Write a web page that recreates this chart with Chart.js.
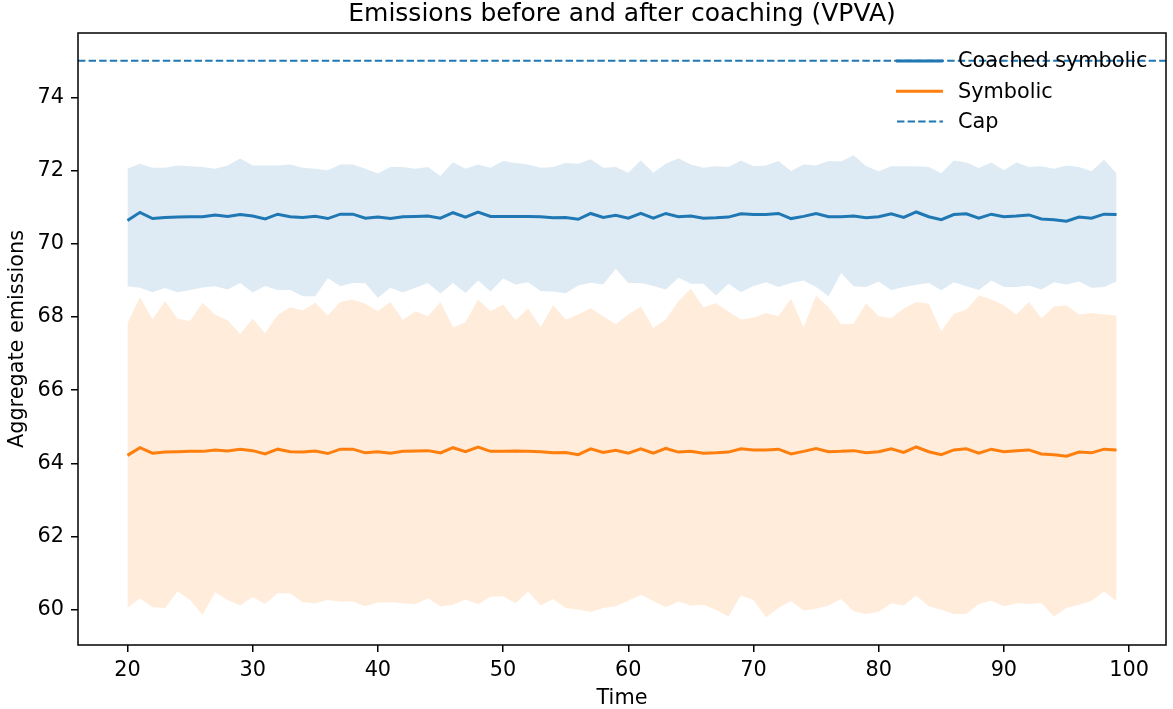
<!DOCTYPE html>
<html><head><meta charset="utf-8">
<script src="https://cdn.jsdelivr.net/npm/chart.js@4.4.0/dist/chart.umd.min.js"></script>
<style>html,body{margin:0;padding:0;background:#fff;}canvas{display:block;}</style>
</head><body>
<canvas id="c" width="1173" height="709"></canvas>
<script>
const titleText = 'Emissions before and after coaching (VPVA)';
const xAxisTitle = 'Time';
const yAxisTitle = 'Aggregate emissions';
const timeSteps = [20,21,22,23,24,25,26,27,28,29,30,31,32,33,34,35,36,37,38,39,
  40,41,42,43,44,45,46,47,48,49,50,51,52,53,54,55,56,57,58,59,
  60,61,62,63,64,65,66,67,68,69,70,71,72,73,74,75,76,77,78,79,
  80,81,82,83,84,85,86,87,88,89,90,91,92,93,94,95,96,97,98,99];
const coachedMean = [70.64,70.86,70.69,70.72,70.73,70.74,70.74,70.79,70.75,70.80,
  70.76,70.68,70.81,70.74,70.72,70.75,70.69,70.81,70.81,70.70,
  70.73,70.69,70.74,70.75,70.76,70.70,70.85,70.73,70.87,70.75,
  70.75,70.75,70.75,70.74,70.71,70.72,70.67,70.83,70.72,70.78,
  70.70,70.83,70.70,70.83,70.74,70.76,70.70,70.71,70.73,70.82,
  70.80,70.80,70.83,70.69,70.75,70.83,70.74,70.74,70.76,70.71,
  70.74,70.82,70.72,70.87,70.74,70.66,70.80,70.82,70.70,70.81,
  70.74,70.76,70.79,70.68,70.66,70.62,70.73,70.70,70.81,70.80];
const coachedUpper = [72.05,72.19,72.08,72.08,72.14,72.12,72.10,72.05,72.14,72.33,
  72.14,72.14,72.14,72.17,72.08,72.05,72.01,72.17,72.17,72.05,
  71.92,72.10,72.10,72.05,72.10,71.85,72.23,72.05,72.17,72.08,
  72.26,72.21,72.17,72.08,72.10,72.21,72.19,72.31,72.08,72.10,
  71.94,72.28,71.94,72.19,72.34,72.17,72.08,72.12,72.10,72.28,
  72.12,72.14,72.26,71.99,72.17,72.14,72.26,72.25,72.42,72.12,
  71.98,72.12,72.12,72.12,72.10,71.93,72.28,72.22,72.07,72.22,
  72.01,72.22,72.10,72.12,72.05,72.14,72.10,71.98,72.30,71.93];
const coachedLower = [68.84,68.80,68.68,68.79,68.68,68.74,68.81,68.84,68.75,68.93,
  68.67,68.85,68.74,68.74,68.57,68.57,69.06,68.85,68.93,68.92,
  68.53,68.80,68.67,68.80,68.93,68.64,68.93,68.66,69.00,68.70,
  69.05,68.89,68.95,68.71,68.70,68.65,68.86,68.94,68.89,69.32,
  68.93,68.93,68.85,68.75,69.07,68.91,68.91,68.59,68.91,68.68,
  68.85,68.95,68.82,68.93,69.00,68.82,68.57,69.20,68.84,68.82,
  68.97,68.74,68.82,68.88,68.93,68.73,68.95,68.84,68.74,69.00,
  68.82,68.82,68.86,68.75,68.95,68.89,68.97,68.80,68.82,68.97];
const symbolicMean = [64.22,64.43,64.28,64.31,64.32,64.33,64.33,64.37,64.34,64.39,
  64.35,64.26,64.39,64.32,64.31,64.34,64.27,64.39,64.39,64.29,
  64.32,64.28,64.33,64.34,64.35,64.29,64.43,64.32,64.45,64.33,
  64.33,64.34,64.33,64.32,64.29,64.30,64.24,64.40,64.30,64.36,
  64.28,64.40,64.28,64.41,64.31,64.33,64.28,64.29,64.31,64.40,
  64.37,64.37,64.39,64.26,64.33,64.41,64.32,64.33,64.35,64.29,
  64.32,64.40,64.30,64.45,64.32,64.24,64.37,64.40,64.28,64.39,
  64.32,64.35,64.37,64.26,64.24,64.20,64.31,64.29,64.39,64.37];
const symbolicUpper = [67.83,68.54,67.93,68.43,67.95,67.89,68.39,68.06,67.91,67.54,
  67.95,67.56,68.06,68.27,68.18,68.39,68.04,68.41,68.48,68.36,
  68.16,68.41,67.92,68.16,68.02,68.41,67.72,67.86,68.48,68.16,
  68.34,67.91,68.23,67.72,68.32,67.93,68.07,68.24,68.02,67.80,
  68.07,68.29,67.70,67.93,68.43,68.77,68.27,68.38,68.15,67.93,
  67.98,68.11,68.02,68.50,67.72,68.59,68.27,67.80,67.82,68.38,
  68.02,67.97,68.23,68.41,68.36,67.61,68.09,68.20,68.59,68.48,
  68.32,68.07,68.41,67.97,68.29,68.32,68.07,68.11,68.07,68.04];
const symbolicLower = [60.05,60.32,60.07,60.05,60.51,60.27,59.86,60.48,60.27,60.12,
  60.35,60.16,60.46,60.45,60.21,60.18,60.27,60.23,60.23,60.10,
  60.20,60.21,60.18,60.15,60.32,60.09,60.14,60.28,60.15,60.36,
  60.37,60.18,60.50,60.12,60.30,60.05,60.01,59.94,60.05,60.10,
  60.25,60.41,60.24,60.07,60.23,60.12,60.14,60.00,59.82,60.39,
  60.27,59.80,60.05,60.24,59.98,60.03,60.12,60.30,59.96,59.89,
  59.95,60.18,60.12,60.39,60.10,60.00,59.89,59.89,60.16,60.25,
  60.10,60.18,60.16,60.19,59.82,60.05,60.14,60.25,60.50,60.24];
const capValue = 75;
const xTickValues = [20,30,40,50,60,70,80,90,100];
const yTickValues = [60,62,64,66,68,70,72,74];
const xAxisMin = 16.05, xAxisMax = 102.95;
const yAxisMin = 59.04, yAxisMax = 75.76;

const BLUE = '#1f77b4', ORANGE = '#ff7f0e';
const FONT = '"DejaVu Sans", sans-serif';
const FS = 20.8;
const pts = ys => timeSteps.map((t, i) => ({x: t, y: ys[i]}));

const band = (label, ys, fill, color) => ({
  label, data: pts(ys), fill, backgroundColor: color, borderWidth: 0,
  pointRadius: 0, order: 2, tension: 0
});
const datasets = [
  {label: 'Coached symbolic', data: pts(coachedMean), borderColor: BLUE, borderWidth: 3,
   pointRadius: 0, fill: false, order: 1, tension: 0, legend: true},
  {label: 'Symbolic', data: pts(symbolicMean), borderColor: ORANGE, borderWidth: 3,
   pointRadius: 0, fill: false, order: 1, tension: 0, legend: true},
  {label: 'Cap', data: [{x: xAxisMin, y: capValue}, {x: xAxisMax, y: capValue}],
   borderColor: BLUE, borderWidth: 2, borderDash: [7.4, 3.2], pointRadius: 0,
   fill: false, order: 0, legend: true, dash: true},
  band('coached upper', coachedUpper, '+1', 'rgba(31,119,180,0.15)'),
  band('coached lower', coachedLower, false, 'rgba(0,0,0,0)'),
  band('symbolic upper', symbolicUpper, '+1', 'rgba(255,127,14,0.15)'),
  band('symbolic lower', symbolicLower, false, 'rgba(0,0,0,0)')
];

const decor = {
  id: 'decor',
  afterDraw(chart) {
    const {ctx, chartArea: a} = chart;
    ctx.save();
    ctx.strokeStyle = '#000'; ctx.lineWidth = 1.5; ctx.setLineDash([]);
    ctx.strokeRect(a.left, a.top, a.right - a.left, a.bottom - a.top);
    ctx.fillStyle = '#000';
    ctx.font = '25px ' + FONT;
    ctx.textAlign = 'center'; ctx.textBaseline = 'middle';
    ctx.fillText(titleText, (a.left + a.right) / 2, 14);
    // legend (no frame)
    const rows = chart.data.datasets.filter(d => d.legend);
    ctx.font = FS + 'px ' + FONT; ctx.textAlign = 'left';
    rows.forEach((d, i) => {
      const y = 61 + i * 30.3;
      ctx.beginPath();
      ctx.strokeStyle = d.borderColor; ctx.lineWidth = d.borderWidth;
      ctx.setLineDash(d.dash ? d.borderDash : []);
      ctx.moveTo(d.dash ? 897 : 896, y); ctx.lineTo(943, y); ctx.stroke();
      ctx.setLineDash([]);
      ctx.fillStyle = '#000';
      ctx.fillText(d.label, 958, y + 1);
    });
    ctx.restore();
  }
};

new Chart(document.getElementById('c'), {
  type: 'line',
  data: {datasets},
  options: {
    responsive: false, animation: false, devicePixelRatio: 1,
    layout: {padding: {top: 33, right: 7, left: 0, bottom: 0}},
    plugins: {legend: {display: false}, title: {display: false}, tooltip: {enabled: false}},
    scales: {
      x: {
        type: 'linear', min: xAxisMin, max: xAxisMax,
        afterBuildTicks: s => { s.ticks = xTickValues.map(v => ({value: v})); },
        afterFit: s => { s.height = 64; },
        grid: {display: true, drawOnChartArea: false, drawTicks: true, tickLength: 7, color: '#000', lineWidth: 1.5},
        border: {display: false},
        ticks: {color: '#000', font: {family: FONT, size: FS}, padding: 6, maxRotation: 0, autoSkip: false},
        title: {display: true, text: xAxisTitle, color: '#000', font: {family: FONT, size: FS}, padding: {top: 0, bottom: -2}}
      },
      y: {
        type: 'linear', min: yAxisMin, max: yAxisMax,
        afterBuildTicks: s => { s.ticks = yTickValues.map(v => ({value: v})); },
        afterFit: s => { s.width = 78; },
        grid: {display: true, drawOnChartArea: false, drawTicks: true, tickLength: 7, color: '#000', lineWidth: 1.5},
        border: {display: false},
        ticks: {color: '#000', font: {family: FONT, size: FS}, padding: 7, autoSkip: false},
        title: {display: true, text: yAxisTitle, color: '#000', font: {family: FONT, size: FS}, padding: {top: 5, bottom: 0}}
      }
    }
  },
  plugins: [decor]
});
</script>
</body></html>
